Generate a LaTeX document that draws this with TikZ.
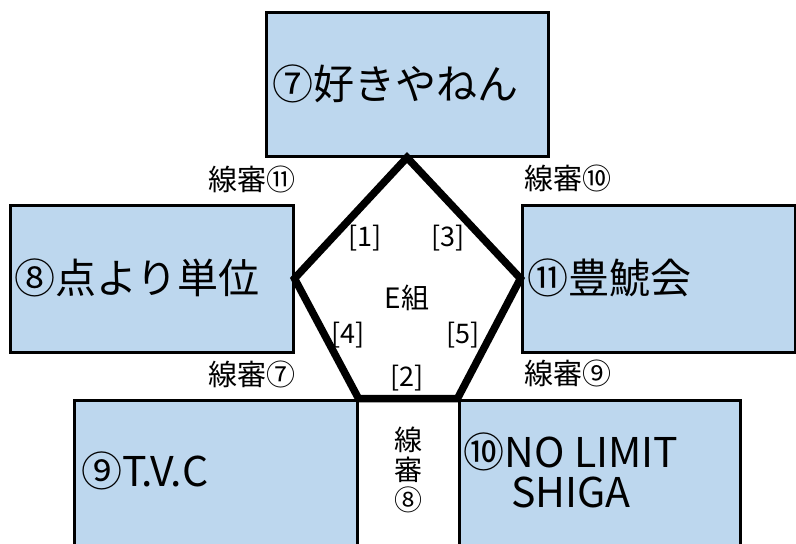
\documentclass[tikz,border=0pt]{standalone}
\usepackage{fontspec}
\setmainfont{Noto Sans CJK JP}
\definecolor{boxblue}{RGB}{189,215,238}
\tikzset{
  team/.style={draw=black, line width=3pt, fill=boxblue, rectangle, inner sep=0pt},
  pent/.style={draw=black, line width=7.5pt, line join=miter},
  bigtext/.style={font=\fontsize{41}{44}\selectfont, inner sep=0pt},
  judgetext/.style={font=\fontsize{29}{30}\selectfont, inner sep=0pt},
  smalltext/.style={font=\fontsize{27}{28}\selectfont, inner sep=0pt},
}
\begin{document}
\begin{tikzpicture}[x=1pt,y=-1pt]
\useasboundingbox (0,0) rectangle (796,544);
\clip (0,0) rectangle (796,544);
% team boxes
\node[team, minimum width=282pt, minimum height=144pt] (t7) at (407,84) {};
\node[team, minimum width=283pt, minimum height=147pt] (t8) at (151.5,278.5) {};
\node[team, minimum width=273pt, minimum height=147pt] (t11) at (658.5,278.5) {};
\node[team, minimum width=283pt, minimum height=190pt] (t9) at (215.5,495) {};
\node[team, minimum width=281pt, minimum height=190pt] (t10) at (599.5,495) {};
% pentagon
\draw[pent] (t7.south) -- (t8.east) -- (t9.north east) -- (t10.north west) -- (t11.west) -- cycle;
% team names
\node[bigtext, anchor=west] (n7) at (272,84) {⑦好きやねん};
\node[bigtext, anchor=west] (n8) at (14,278) {⑧点より単位};
\node[bigtext, anchor=west] (n11) at (527,278) {⑪豊鯱会};
\node[bigtext, anchor=west] (n9) at (81,471) {⑨T.V.C};
\node[bigtext, align=center, font=\fontsize{41}{40}\selectfont] (n10) at (571,470) {⑩NO LIMIT\\SHIGA};
% line judges
\node[judgetext, align=center, font=\fontsize{28}{30}\selectfont] (j8) at (408,470) {線\\審\\⑧};
\node[judgetext, anchor=east] (j11) at (296,179) {線審⑪};
\node[judgetext, anchor=east] (j7) at (296,374) {線審⑦};
\node[judgetext, anchor=west] (j10) at (524,178) {線審⑩};
\node[judgetext, anchor=west] (j9) at (524,373) {線審⑨};
% court labels
\node[smalltext] (c1) at (365,238) {[1]};
\node[smalltext] (c3) at (448,238) {[3]};
\node[smalltext, font=\fontsize{28}{28}\selectfont] (ce) at (407,298) {E組};
\node[smalltext] (c4) at (348,335) {[4]};
\node[smalltext] (c5) at (463,335) {[5]};
\node[smalltext] (c2) at (407,378) {[2]};
\end{tikzpicture}
\end{document}
